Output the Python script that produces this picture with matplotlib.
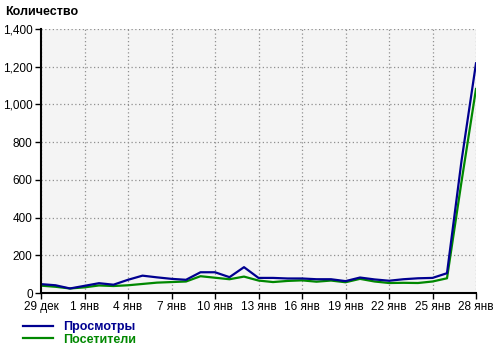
import numpy as np
import matplotlib.pyplot as plt
from matplotlib.ticker import FuncFormatter

DAYS = np.arange(31)
TICK_POS = np.arange(0, 31, 3)
TICK_LABELS = ["29 дек", "1 янв", "4 янв", "7 янв", "10 янв", "13 янв",
               "16 янв", "19 янв", "22 янв", "25 янв", "28 янв"]

views = [47, 41, 24, 38, 52, 44, 70, 92, 83, 75, 70, 110, 110, 84, 137, 80,
         80, 77, 77, 73, 73, 63, 82, 72, 65, 73, 78, 80, 105, 700, 1218]
visitors = [39, 33, 24, 30, 40, 37, 41, 48, 55, 58, 61, 89, 81, 73, 87, 66,
            58, 64, 67, 60, 66, 57, 75, 61, 53, 54, 53, 61, 78, 590, 1082]

BLUE = "#000090"
GREEN = "#008800"

plt.rcParams["font.family"] = ["Liberation Sans", "DejaVu Sans"]

fig = plt.figure(figsize=(5.0, 3.51), dpi=100)
ax = fig.add_axes([41 / 500, 1 - 293 / 351, 435 / 500, 264 / 351])
ax.set_facecolor("#F4F4F4")

ax.plot(DAYS, visitors, color=GREEN, lw=1.6, label="Посетители", zorder=3)
ax.plot(DAYS, views, color=BLUE, lw=1.6, label="Просмотры", zorder=4)

ax.set_xlim(0, 30)
ax.set_ylim(0, 1400)
ax.set_yticks(np.arange(0, 1401, 200))
ax.yaxis.set_major_formatter(FuncFormatter(lambda v, p: f"{int(v):,}"))
ax.set_xticks(TICK_POS)
ax.set_xticklabels(TICK_LABELS)
ax.tick_params(length=4, width=1, labelsize=8.5, color="black", pad=2)

ax.grid(True, color="#909090", linestyle=(0, (1, 2)), linewidth=0.9)
ax.set_axisbelow(True)
for s in ["top", "right"]:
    ax.spines[s].set_visible(False)
for s in ["left", "bottom"]:
    ax.spines[s].set_linewidth(1.5)
    ax.spines[s].set_zorder(5)

fig.text(5 / 500, 1 - 12 / 351, "Количество", fontsize=9, fontweight="bold",
         ha="left", va="center")

handles, labels = ax.get_legend_handles_labels()
leg = fig.legend(handles[::-1], labels[::-1], loc="upper left",
                 bbox_to_anchor=(23 / 500, 1 - 321 / 351), frameon=False,
                 handlelength=2.4, handletextpad=0.85, labelspacing=0.05,
                 prop={"weight": "bold", "size": 9}, labelcolor="linecolor",
                 borderpad=0, borderaxespad=0)

fig.savefig("out.png", dpi=100)
